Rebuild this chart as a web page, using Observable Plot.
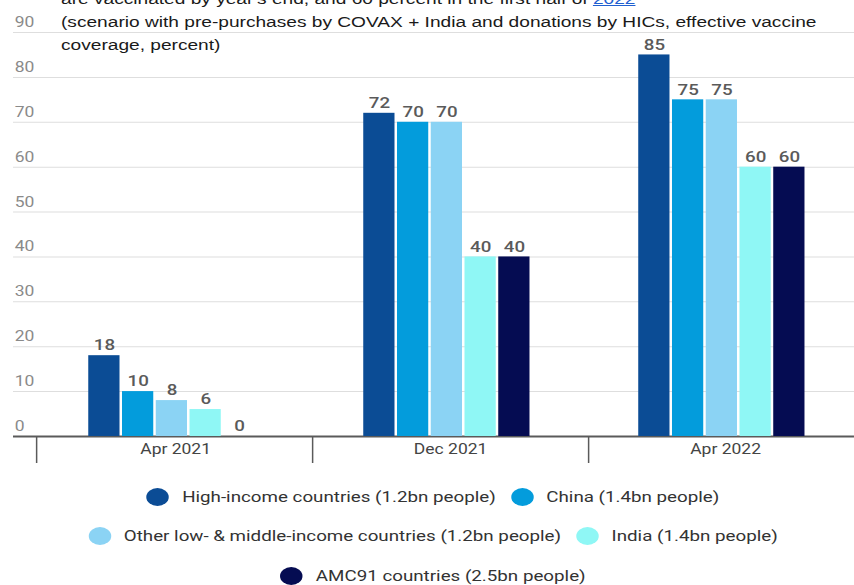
<!DOCTYPE html>
<html>
<head>
<meta charset="utf-8">
<script src="https://cdn.jsdelivr.net/npm/d3@7"></script>
<script src="https://cdn.jsdelivr.net/npm/@observablehq/plot@0.6"></script>
<style>
  html, body { margin: 0; padding: 0; background: #fff; overflow: hidden; }
  #stage { position: relative; width: 854px; height: 585px; overflow: hidden; }
  /* the chart is laid out on a narrower canvas and widened as a whole */
  #chart { position: absolute; left: 0; top: 0; width: 683.2px; height: 585px;
           transform: scaleX(1.25); transform-origin: 0 0; }
  .layer { position: absolute; left: 0; top: 0; width: 683.2px; }
  #title { position: absolute; left: 48.8px; top: -13.5px; white-space: nowrap;
           font: 15.3px/23px "Liberation Sans", Arial, sans-serif; color: #1a1a1a; }
  #title a { color: #1f5fd0; text-decoration: underline; }
  #legend { position: absolute; left: 46.4px; width: 600px; top: 477px;
            display: flex; flex-wrap: wrap; justify-content: center; column-gap: 12px;
            font: 15px Roboto, sans-serif; color: #333; }
  .item { display: flex; align-items: center; height: 39.5px; white-space: nowrap; }
  .swatch { width: 18px; height: 18px; border-radius: 50%; margin-right: 10.4px; flex: none; }
</style>
</head>
<body>
<div id="stage">
  <div id="chart">
    <div id="base" class="layer"></div>
    <div id="bars" class="layer"></div>
    <div id="title">are vaccinated by year's end, and 60 percent in the first half of <a>2022</a><br>(scenario with pre-purchases by COVAX + India and donations by HICs, effective vaccine<br>coverage, percent)</div>
    <div id="legend"></div>
  </div>
</div>
<script>
// Periods on the x axis
const periods = ["Apr 2021", "Dec 2021", "Apr 2022"];

// Country groups (one bar each per period)
const groups = [
  "High-income countries (1.2bn people)",
  "China (1.4bn people)",
  "Other low- & middle-income countries (1.2bn people)",
  "India (1.4bn people)",
  "AMC91 countries (2.5bn people)"
];

// Effective vaccine coverage, percent, per period
const highIncome = [18, 72, 85];
const china = [10, 70, 75];
const otherLMIC = [8, 70, 75];
const india = [6, 40, 60];
const amc91 = [0, 40, 60];

const groupColors = ["#0b4c95", "#039cdc", "#8bd3f4", "#8ff7f5", "#050c52"];

const yTicks = [0, 10, 20, 30, 40, 50, 60, 70, 80, 90];

const series = [highIncome, china, otherLMIC, india, amc91];
const rows = periods.flatMap((period, i) =>
  groups.map((group, j) => ({period, group, value: series[j][i]}))
);

const W = 683.2, H = 470;
const frame = {
  width: W, height: H,
  marginTop: 32, marginBottom: 34, marginLeft: 10.4, marginRight: 0,
  style: {background: "transparent", overflow: "visible", fontFamily: "Roboto, sans-serif"}
};

// Background layer: gridlines, y labels, baseline and period separators
const base = Plot.plot({
  ...frame,
  x: {type: "linear", domain: [0, periods.length], range: [28.8, 691.2], axis: null},
  y: {domain: [0, 90], axis: null},
  marks: [
    Plot.ruleY(yTicks.filter(t => t > 0), {stroke: "#dedede", strokeWidth: 1}),
    Plot.text(yTicks, {
      y: d => d, text: d => String(d), frameAnchor: "left", textAnchor: "start",
      dx: 0.8, dy: -10, lineAnchor: "middle", fill: "#8a8a8a", fontSize: 14
    }),
    Plot.axisX({
      ticks: d3.range(periods.length), anchor: "bottom", tickSize: 27,
      tickFormat: () => "", stroke: "#5a5a5a", strokeWidth: 1.2, label: null
    }),
    Plot.ruleY([0], {stroke: "#5a5a5a", strokeWidth: 2})
  ]
});
document.getElementById("base").append(base);

// Foreground layer: grouped bars with value labels
const bars = Plot.plot({
  ...frame,
  fx: {domain: periods, range: [28.8, 691.2], paddingInner: 0, paddingOuter: 0, label: null},
  x: {domain: groups, paddingInner: 0.058, paddingOuter: 1.53, align: 0.47, axis: null},
  y: {domain: [0, 90], axis: null},
  color: {domain: groups, range: groupColors},
  marks: [
    Plot.barY(rows, {fx: "period", x: "group", y: "value", fill: "group"}),
    Plot.text(rows, {
      fx: "period", x: "group", y: "value", text: d => String(d.value),
      dy: -10, lineAnchor: "middle", fill: "#5a5a5a", fontSize: 15, fontWeight: 500
    }),
    Plot.axisFx({anchor: "bottom", tickSize: 0, tickPadding: 8, fontSize: 14, color: "#444", label: null})
  ]
});
document.getElementById("bars").append(bars);

// Legend
const legend = d3.select("#legend");
groups.forEach((g, i) => {
  const item = legend.append("div").attr("class", "item");
  item.append("span").attr("class", "swatch").style("background", groupColors[i]);
  item.append("span").text(g);
});
</script>
</body>
</html>
